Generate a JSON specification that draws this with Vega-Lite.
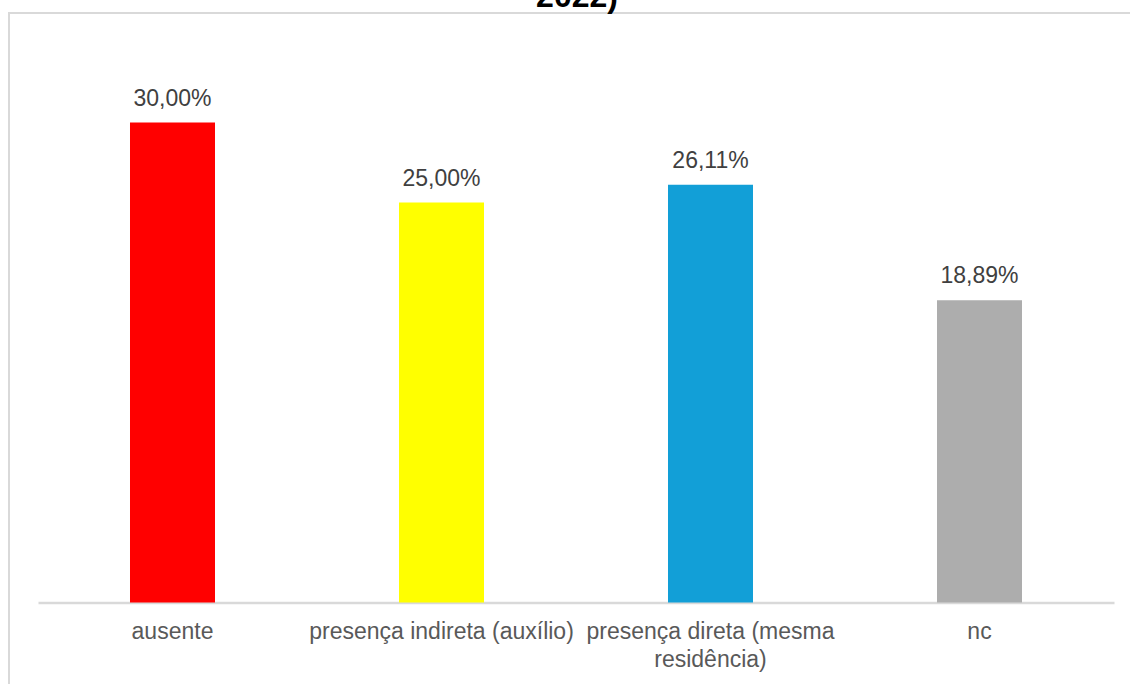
{
  "$schema": "https://vega.github.io/schema/vega-lite/v6.json",
  "autosize": "none",
  "width": 1136,
  "height": 687,
  "padding": {"left": 9, "top": 13, "right": 0, "bottom": 0},
  "background": "white",
  "config": {
    "locale": {"number": {"decimal": ",", "thousands": ".", "grouping": [3], "currency": ["R$", ""]}},
    "view": {"stroke": "#d9d9d9", "strokeWidth": 2},
    "font": "Liberation Sans"
  },
  "title": {
    "text": "2022)",
    "font": "Liberation Sans",
    "fontSize": 32,
    "fontWeight": "bold",
    "color": "#000000",
    "anchor": "middle",
    "frame": "group",
    "baseline": "alphabetic",
    "offset": 0,
    "dy": 26
  },
  "data": {
    "values": [
      {"categoria": "ausente", "valor": 0.30, "cor": "#FF0000"},
      {"categoria": "presença indireta (auxílio)", "valor": 0.25, "cor": "#FFFF00"},
      {"categoria": "presença direta (mesma residência)", "valor": 0.2611, "cor": "#129FD7"},
      {"categoria": "nc", "valor": 0.1889, "cor": "#ADADAD"}
    ]
  },
  "encoding": {
    "x": {
      "field": "categoria",
      "type": "nominal",
      "sort": null,
      "scale": {"range": [29, 1105], "paddingInner": 0.684, "paddingOuter": 0.342},
      "axis": {
        "title": null,
        "labelAngle": 0,
        "ticks": false,
        "offset": -97.5,
        "domainColor": "#d9d9d9",
        "domainWidth": 2.5,
        "labelFont": "Liberation Sans",
        "labelFontSize": 23,
        "labelColor": "#595959",
        "labelPadding": 18,
        "labelLineHeight": 28,
        "labelLimit": 400,
        "labelExpr": "datum.label == 'presença direta (mesma residência)' ? ['presença direta (mesma', 'residência)'] : datum.label"
      }
    },
    "y": {
      "field": "valor",
      "type": "quantitative",
      "scale": {"domain": [-0.060938, 0.368438], "nice": false, "zero": false},
      "axis": null
    }
  },
  "layer": [
    {
      "mark": {"type": "bar"},
      "encoding": {
        "y2": {"datum": 0},
        "color": {"field": "cor", "type": "nominal", "scale": null, "legend": null}
      }
    },
    {
      "mark": {"type": "text", "baseline": "alphabetic", "dy": -17, "fontSize": 23, "color": "#404040", "font": "Liberation Sans"},
      "encoding": {
        "text": {"field": "valor", "type": "quantitative", "format": ".2%"}
      }
    }
  ]
}
